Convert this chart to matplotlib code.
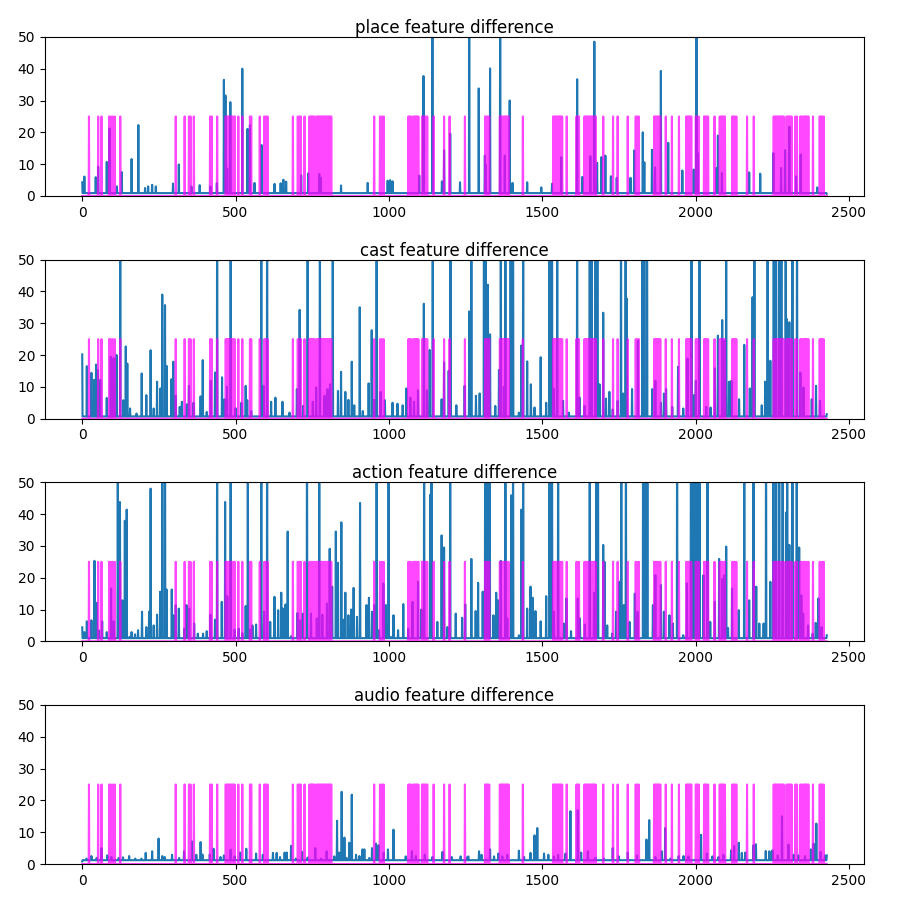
import numpy as np
import matplotlib.pyplot as plt

n_frames = 2429

# frames flagged as shot boundaries (drawn at height 25)
boundary_height = 25
boundary_frames = [
    22, 52, 63, 88, 93, 99, 106, 124,
    305, 334, 348, 353, 364, 417, 422, 440,
    468, 472, 476, 480, 484, 488, 492, 497, 509, 522, 547, 551, 579, 594, 599, 604,
    687, 703, 708, 713, 725,
    741, 745, 749, 753, 757, 764, 768, 772, 776, 780, 784, 788, 792, 796, 800, 804, 808, 812,
    952, 971, 977, 983,
    1064, 1068, 1072, 1080, 1084, 1088, 1092, 1096, 1108, 1112, 1116, 1120, 1125, 1146, 1180, 1198,
    1248, 1314, 1318, 1322, 1327, 1362, 1366, 1370, 1374, 1378, 1382, 1386, 1390, 1437,
    1536, 1540, 1544, 1548, 1552, 1556, 1560, 1565, 1580, 1612, 1616, 1620,
    1638, 1642, 1646, 1650, 1654, 1658, 1662, 1666, 1670, 1674, 1699, 1731, 1746, 1779,
    1805, 1810, 1815, 1865, 1869, 1873, 1877, 1881, 1885, 1903, 1923, 1946,
    1970, 1974, 1978, 1982, 1986, 2001, 2005, 2010, 2028, 2032, 2036, 2041,
    2062, 2079, 2083, 2087, 2091, 2096, 2120, 2124, 2128, 2133, 2168, 2190,
    2255, 2259, 2263, 2267, 2271, 2275, 2279, 2283, 2287, 2297, 2301, 2305, 2309, 2313,
    2326, 2331, 2342, 2346, 2352, 2356, 2360, 2364, 2368, 2383, 2405, 2409, 2413, 2418,
]

# (frame, difference) peaks; values above 50 are clipped
place_peaks = [
    (0, 4.3), (7, 6.1), (44, 5.9), (52, 9.2), (80, 10.7), (89, 21.2), (113, 3), (129, 7.5),
    (161, 11.6), (183, 22.3), (205, 2.5), (215, 3), (228, 3.5), (240, 3), (296, 3.9), (315, 9.9),
    (356, 3), (383, 3.4), (418, 3), (439, 4), (462, 36.5), (467, 31.6), (473, 8.6), (483, 29.5),
    (522, 40), (539, 21.1), (547, 22.3), (562, 4.1), (585, 16), (627, 3.8), (647, 4), (656, 5.1),
    (665, 4.5), (714, 6.5), (737, 7.1), (773, 6.9), (778, 5.7), (844, 3.3), (931, 4.1), (996, 4.8),
    (1004, 5), (1012, 4.6), (1099, 6.4), (1113, 37.7), (1142, 80), (1173, 4.6), (1180, 14.4),
    (1200, 19.6), (1232, 4.3), (1262, 80), (1293, 33.8), (1313, 12.7), (1316, 9.9), (1330, 40.1),
    (1363, 80), (1378, 12.7), (1394, 30), (1403, 4.1), (1451, 4.3), (1497, 2.7), (1532, 3.8),
    (1562, 12.2), (1614, 36.7), (1631, 6), (1657, 12.5), (1670, 48.5), (1679, 10.4), (1693, 12.2),
    (1706, 12.7), (1724, 6.2), (1743, 5.7), (1788, 5.7), (1800, 14.3), (1828, 20), (1833, 10.6),
    (1858, 14.5), (1868, 9), (1887, 39.3), (1911, 16.7), (1957, 8), (1994, 8.3), (2003, 80),
    (2007, 13.5), (2068, 8.8), (2073, 19), (2086, 7.2), (2175, 7.4), (2211, 7), (2254, 13.5),
    (2279, 8.8), (2292, 14.4), (2306, 21.8), (2328, 6.2), (2343, 13), (2397, 2.7), (2428, 0.7),
]

cast_peaks = [
    (0, 20.2), (15, 16.5), (30, 14.4), (39, 12.2), (45, 17), (50, 15.3), (59, 12.2), (80, 6.5),
    (93, 19.5), (102, 19), (112, 20), (124, 80), (134, 5.8), (142, 22.7), (147, 17.3), (156, 3.2),
    (177, 1.6), (194, 14.2), (209, 7.4), (223, 21.5), (233, 3.2), (244, 11.6), (255, 9.5),
    (261, 39), (270, 35.7), (275, 16.6), (291, 12.4), (297, 17.9), (305, 7.2), (318, 3.7),
    (325, 5.3), (341, 4.5), (348, 10.3), (363, 5), (386, 7), (393, 18.4), (406, 2.1), (419, 11.9),
    (433, 14.5), (440, 80), (456, 13), (464, 6.1), (472, 10), (484, 80), (500, 3.3), (519, 5),
    (533, 10.3), (538, 5.8), (551, 2.4), (584, 80), (592, 10.3), (603, 80), (616, 5.3), (630, 6.6),
    (653, 5.3), (676, 1.9), (700, 9.3), (709, 34.2), (720, 4), (735, 80), (752, 5.3), (763, 9.8),
    (775, 80), (790, 7.2), (800, 9.3), (808, 10.8), (817, 80), (834, 8.7), (844, 14.7), (858, 8.4),
    (868, 5.9), (879, 17.9), (887, 4.2), (905, 35), (915, 2.4), (934, 11.1), (944, 27.8),
    (952, 5.9), (960, 80), (973, 8.4), (987, 5.8), (1012, 5), (1028, 4.7), (1045, 4.2), (1057, 9.5),
    (1070, 6.6), (1082, 5.3), (1095, 8.9), (1114, 36.1), (1124, 8.9), (1133, 21.6), (1143, 80),
    (1172, 6.1), (1180, 17.7), (1195, 15), (1201, 80), (1220, 4.2), (1247, 10.3), (1262, 33.7),
    (1269, 80), (1284, 7.2), (1296, 7.9), (1310, 80), (1316, 80), (1323, 42.1), (1330, 26.5),
    (1347, 4), (1359, 15.3), (1365, 80), (1375, 10), (1380, 80), (1397, 80), (1405, 80),
    (1424, 1.9), (1432, 23), (1438, 80), (1451, 18), (1463, 10.8), (1475, 3.5), (1495, 19.3),
    (1513, 5), (1524, 80), (1532, 80), (1538, 9.3), (1549, 80), (1568, 5.6), (1587, 1.9),
    (1614, 80), (1622, 6.6), (1638, 4), (1655, 80), (1661, 80), (1674, 80), (1680, 80),
    (1687, 10.8), (1699, 33.3), (1708, 6.3), (1719, 8.4), (1730, 2.9), (1746, 5.6), (1757, 80),
    (1764, 7.9), (1772, 80), (1776, 37.7), (1793, 9.3), (1812, 24.5), (1827, 80), (1833, 80),
    (1842, 80), (1859, 9.3), (1869, 11.9), (1887, 5), (1897, 7.9), (1904, 9.3), (1924, 3.7),
    (1943, 16.3), (1960, 3.2), (1974, 18.9), (1987, 80), (1995, 7.4), (2001, 11.9), (2013, 80),
    (2035, 3.7), (2049, 3.5), (2063, 15.8), (2073, 26.1), (2087, 31), (2093, 24.5), (2100, 80),
    (2109, 11.6), (2117, 11.9), (2142, 6.1), (2159, 23.2), (2177, 9.5), (2186, 38.2), (2192, 80),
    (2216, 4.2), (2227, 11.6), (2235, 80), (2244, 18.2), (2255, 80), (2262, 80), (2272, 80),
    (2280, 80), (2294, 80), (2297, 31.4), (2306, 30.3), (2316, 80), (2331, 80), (2342, 14.5),
    (2352, 9.8), (2379, 6.1), (2393, 10.3), (2406, 5.6), (2428, 1.4),
]

action_peaks = [
    (0, 4.4), (7, 2.9), (15, 6.3), (30, 6.6), (40, 25.3), (47, 12.1), (55, 3.4), (65, 6.3),
    (80, 2.9), (94, 16.6), (102, 6.3), (116, 80), (123, 43.8), (131, 12.9), (139, 37.9),
    (145, 41.4), (154, 1.4), (161, 2.9), (172, 2.2), (182, 3.5), (195, 9.3), (209, 4.5), (218, 9.3),
    (223, 48), (233, 5), (244, 8.4), (254, 15.6), (261, 80), (270, 80), (275, 16.3), (292, 16.3),
    (297, 8.2), (305, 11.4), (315, 10.3), (324, 1), (333, 4), (340, 11.4), (349, 10.3), (365, 5.6),
    (377, 2.4), (394, 2.4), (406, 3.2), (418, 8.4), (433, 6.8), (440, 80), (455, 12.4), (466, 43.8),
    (473, 14.2), (484, 80), (497, 3.7), (510, 4), (522, 2.6), (533, 11.1), (540, 80), (546, 3.7),
    (555, 5), (567, 5.3), (584, 80), (593, 9.3), (603, 80), (613, 6.1), (627, 14), (639, 9.8),
    (649, 15.3), (654, 10.3), (663, 11.6), (670, 34.5), (681, 1.6), (702, 8.9), (711, 6.6),
    (719, 8.7), (733, 80), (746, 8.7), (765, 7.2), (773, 80), (783, 8.4), (798, 11.9), (807, 29.1),
    (815, 17.2), (827, 34.5), (834, 24.7), (845, 37.4), (853, 6.8), (858, 15.3), (868, 8.2),
    (877, 10), (885, 16.8), (896, 7.7), (906, 43.5), (918, 1), (927, 11.4), (935, 13.7), (945, 9.3),
    (952, 11.4), (960, 80), (968, 3.5), (982, 18.2), (990, 11.4), (999, 80), (1007, 1.4),
    (1015, 8.2), (1030, 3.5), (1047, 11.7), (1063, 4), (1077, 12.4), (1095, 18.7), (1106, 10),
    (1115, 80), (1135, 46.1), (1139, 80), (1158, 6.1), (1172, 33.3), (1180, 29.5), (1191, 4.5),
    (1200, 80), (1218, 8.7), (1239, 7.4), (1249, 11.6), (1269, 25.9), (1283, 9.5), (1291, 18.4),
    (1306, 15.6), (1314, 80), (1321, 80), (1329, 80), (1341, 8.2), (1350, 15.3), (1356, 12.9),
    (1365, 25.3), (1380, 80), (1386, 7.2), (1399, 45.9), (1405, 80), (1424, 1.9), (1432, 41.4),
    (1438, 80), (1451, 10.3), (1462, 17.2), (1469, 13.7), (1478, 9.5), (1495, 6.3), (1513, 14.2),
    (1524, 80), (1532, 80), (1538, 9.3), (1552, 80), (1571, 5.6), (1579, 13.5), (1594, 3.2),
    (1616, 13.5), (1623, 7.2), (1639, 5.3), (1655, 80), (1669, 15.3), (1677, 80), (1682, 80),
    (1699, 30.3), (1703, 25), (1712, 5), (1728, 2.4), (1741, 9.3), (1752, 18.7), (1758, 80),
    (1766, 11.4), (1773, 80), (1785, 6.1), (1802, 15), (1811, 9.3), (1829, 80), (1835, 80),
    (1843, 80), (1861, 11.4), (1869, 20.8), (1887, 17.7), (1897, 9.3), (1915, 8.2), (1926, 5.6),
    (1940, 80), (1960, 1.9), (1972, 18.2), (1985, 80), (1990, 80), (1995, 80), (2000, 80),
    (2005, 80), (2010, 80), (2013, 80), (2026, 20.8), (2039, 80), (2048, 6.1), (2063, 12.4),
    (2077, 25.9), (2087, 19.6), (2093, 20.8), (2100, 29.8), (2106, 4.2), (2119, 16.6), (2141, 9.8),
    (2159, 80), (2175, 12.9), (2189, 80), (2198, 17.2), (2208, 5.6), (2222, 5.6), (2230, 80),
    (2244, 18.7), (2254, 80), (2263, 80), (2273, 80), (2284, 80), (2295, 40.5), (2299, 80),
    (2306, 30.3), (2316, 80), (2330, 80), (2338, 29.5), (2345, 14.5), (2351, 8.7), (2367, 5),
    (2382, 2.4), (2392, 5.8), (2401, 13.5), (2411, 4.5), (2428, 1.9),
]

audio_peaks = [
    (0, 0.8), (14, 1.7), (30, 2.5), (47, 1.9), (63, 5), (82, 2.7), (95, 2.2), (119, 1.9),
    (133, 2.1), (153, 2.5), (173, 1.7), (193, 1.7), (207, 3.5), (228, 4), (249, 8), (261, 2.5),
    (269, 2.2), (293, 2.9), (316, 1.9), (332, 4), (358, 7.1), (372, 2.9), (386, 6.9), (392, 3),
    (416, 3), (428, 4.8), (451, 2.2), (462, 2.7), (484, 4.5), (497, 2.4), (515, 3.6), (535, 4.8),
    (567, 3.3), (589, 2.9), (622, 3.5), (634, 3.5), (645, 2.2), (660, 3.6), (667, 3.6), (681, 5.7),
    (697, 1.7), (717, 3.8), (735, 2), (760, 5), (779, 1.7), (797, 4), (822, 2.4), (831, 13.6),
    (838, 3.6), (846, 22.7), (855, 8.3), (862, 1.9), (871, 6.7), (879, 21.8), (893, 2.9),
    (904, 2.5), (914, 4.6), (920, 4.6), (936, 1.9), (945, 5), (958, 6.4), (966, 5.9), (983, 3.6),
    (997, 4.6), (1015, 10.8), (1034, 1.2), (1055, 2.4), (1075, 4), (1088, 2.5), (1117, 2.9),
    (1142, 2.2), (1175, 3.8), (1205, 2.2), (1234, 2.4), (1259, 2.4), (1256, 2.2), (1294, 4),
    (1302, 2.9), (1330, 4.6), (1343, 2.4), (1357, 3.3), (1370, 2.4), (1386, 2.9), (1424, 4.2),
    (1441, 2.2), (1462, 3.5), (1475, 9), (1484, 11.3), (1506, 3.3), (1520, 2.9), (1538, 2.4),
    (1552, 2.9), (1576, 3.3), (1592, 16.6), (1616, 16.9), (1627, 3.6), (1649, 4), (1674, 1.9),
    (1701, 1.7), (1730, 5), (1750, 2.4), (1779, 3.6), (1809, 2.7), (1840, 7.7), (1849, 13.8),
    (1869, 2.2), (1890, 4), (1901, 11.3), (1918, 1.7), (1945, 2.5), (1961, 2.5), (1977, 2.4),
    (2018, 9.2), (2037, 3.3), (2055, 2.4), (2075, 2.2), (2091, 2.9), (2116, 4.3), (2126, 5.7),
    (2141, 6.7), (2151, 3.5), (2162, 3.6), (2189, 5.9), (2197, 6.2), (2210, 1.2), (2229, 4.1),
    (2241, 4), (2251, 4.3), (2268, 2.7), (2282, 15), (2303, 6.1), (2320, 2.9), (2335, 2.7),
    (2357, 2.5), (2376, 4.6), (2385, 6.4), (2394, 12.7), (2408, 3.8), (2422, 2.7), (2428, 2.7),
]

titles = ['place feature difference', 'cast feature difference',
          'action feature difference', 'audio feature difference']
base_levels = [0.9, 0.7, 1.0, 1.2]


def to_series(peaks, base):
    y = np.full(n_frames, base)
    for frame, val in peaks:
        y[frame] = val
    return y


boundary = np.zeros(n_frames)
boundary[boundary_frames] = boundary_height

fig, axes = plt.subplots(4, 1, figsize=(9, 9))
fig.subplots_adjust(left=0.05, right=0.96, top=0.959, bottom=0.04, hspace=0.4)

all_peaks = [place_peaks, cast_peaks, action_peaks, audio_peaks]
for ax, title, peaks, base in zip(axes, titles, all_peaks, base_levels):
    ax.plot(to_series(peaks, base))
    ax.plot(boundary, color='magenta', alpha=0.72)
    ax.set_ylim(0, 50)
    ax.set_title(title, pad=2)

plt.savefig('out.png', dpi=100)
